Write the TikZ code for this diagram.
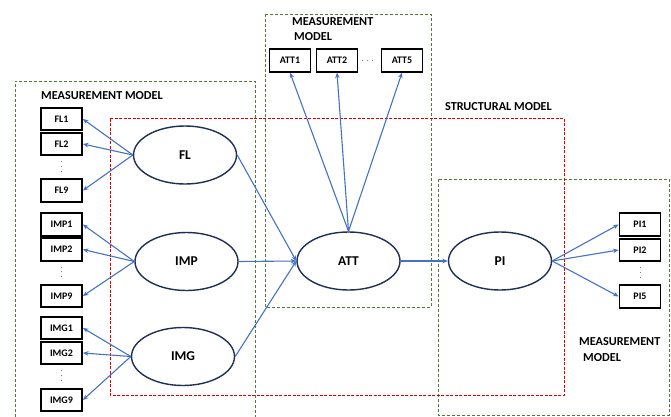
\documentclass[tikz,border=0pt]{standalone}
\usepackage{fontspec}
\setmainfont{Carlito}
\usetikzlibrary{arrows.meta,shapes.geometric}
\definecolor{arrowblue}{RGB}{68,114,196}
\definecolor{navy}{RGB}{31,46,84}
\definecolor{dgreen}{RGB}{84,122,55}
\definecolor{dred}{RGB}{220,0,0}
\tikzset{
  ind/.style={draw=black, line width=1.8pt, minimum width=41pt, minimum height=22.5pt, inner sep=0pt, font=\bfseries\fontsize{10}{10}\selectfont, fill=white},
  lat/.style={ellipse, draw=navy, line width=1.4pt, minimum width=103pt, minimum height=58pt, inner sep=0pt, font=\bfseries\fontsize{13.5}{13.5}\selectfont},
  arr/.style={draw=arrowblue, line width=1.1pt, -{Stealth[length=5.5pt,width=4.5pt]}},
  gbox/.style={draw=dgreen, line width=0.9pt, dash pattern=on 3pt off 2pt},
  rbox/.style={draw=dred, line width=1pt, dash pattern=on 3pt off 1.5pt},
  dotline/.style={draw=gray, line width=0.8pt, dash pattern=on 0.8pt off 4pt},
  ttl/.style={font=\bfseries\fontsize{12.2}{12.2}\selectfont, inner sep=0pt, anchor=west}
}
\begin{document}
\begin{tikzpicture}[x=1pt,y=-1pt]
\useasboundingbox (0,0) rectangle (671,417);
% dashed frames
\draw[gbox] (15,417) -- (15,81) -- (255,81) -- (255,417);
\draw[gbox] (265,14) rectangle (431,307);
\draw[gbox] (438,179) rectangle (669,415);
\draw[rbox] (110,118.5) rectangle (564,395);
% titles
\node[ttl] (t1) at (41,96) {MEASUREMENT MODEL};
\node[ttl] (t2) at (292,22) {MEASUREMENT};
\node[ttl] (t3) at (294,36.5) {MODEL};
\node[ttl] (t4) at (445,107) {STRUCTURAL MODEL};
\node[ttl] (t5) at (579,342) {MEASUREMENT};
\node[ttl] (t6) at (583,357.5) {MODEL};
% indicators
\node[ind] (FL1) at (61.5,119) {FL1};
\node[ind] (FL2) at (61.5,144) {FL2};
\node[ind] (FL9) at (61.5,190.5) {FL9};
\node[ind] (IMP1) at (61.5,224.5) {IMP1};
\node[ind] (IMP2) at (61.5,249.5) {IMP2};
\node[ind] (IMP9) at (61.5,296) {IMP9};
\node[ind] (IMG1) at (61.5,328) {IMG1};
\node[ind] (IMG2) at (61.5,353) {IMG2};
\node[ind] (IMG9) at (61.5,400) {IMG9};
\node[ind] (ATT1) at (290,60.5) {ATT1};
\node[ind] (ATT2) at (337,60.5) {ATT2};
\node[ind] (ATT5) at (402,60.5) {ATT5};
\node[ind] (PI1) at (640,224.5) {PI1};
\node[ind] (PI2) at (640,250) {PI2};
\node[ind] (PI5) at (640,296.5) {PI5};
% dots
\draw[dotline, shorten <=5pt, shorten >=4pt] (FL2.south) -- (FL9.north);
\draw[dotline, shorten <=5pt, shorten >=4pt] (IMP2.south) -- (IMP9.north);
\draw[dotline, shorten <=5pt, shorten >=4pt] (IMG2.south) -- (IMG9.north);
\draw[dotline, shorten <=5pt, shorten >=4pt] (PI2.south) -- (PI5.north);
\draw[dotline, shorten <=4pt, shorten >=4pt] (ATT2.east) -- (ATT5.west);
% latent variables
\node[lat] (FL) at (185,155) {FL};
\node[lat] (IMP) at (186.5,261.5) {IMP};
\node[lat] (IMG) at (183,356.5) {IMG};
\node[lat] (ATT) at (348.5,261) {ATT};
\node[lat] (PI) at (500,261) {PI};
% arrows
\foreach \b in {FL1,FL2,FL9} \draw[arr] (FL.west) -- (\b.east);
\foreach \b in {IMP1,IMP2,IMP9} \draw[arr] (IMP.west) -- (\b.east);
\foreach \b in {IMG1,IMG2,IMG9} \draw[arr] (IMG.west) -- (\b.east);
\foreach \b in {ATT1,ATT2,ATT5} \draw[arr] (ATT.north) -- (\b.south);
\foreach \b in {PI1,PI2,PI5} \draw[arr] (PI.east) -- (\b.west);
\draw[arr] (FL.east) -- (ATT.west);
\draw[arr] (IMP.east) -- (ATT.west);
\draw[arr] (IMG.east) -- (ATT.west);
\draw[arr] (ATT.east) -- (PI.west);
\end{tikzpicture}
\end{document}
